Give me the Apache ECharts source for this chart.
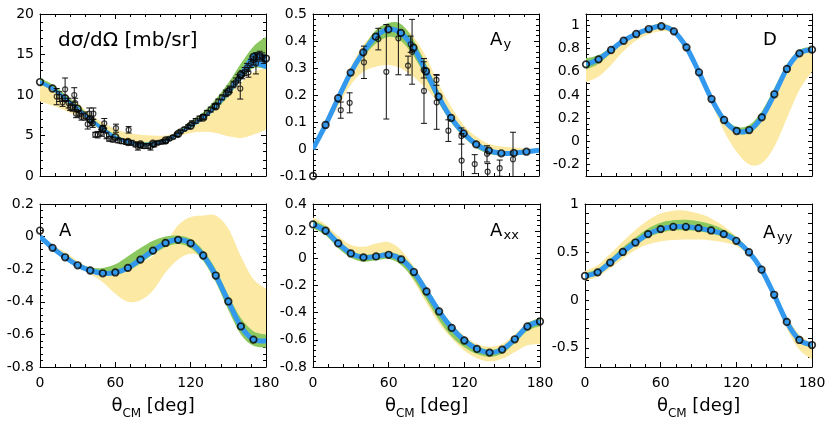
<!DOCTYPE html>
<html><head><meta charset="utf-8">
<script src="https://cdn.jsdelivr.net/npm/echarts@6/dist/echarts.min.js"></script>
<style>html,body{margin:0;padding:0;background:#fff}#c{width:831px;height:424px}</style>
</head><body><div id="c"></div>
<script>
const THETA = [0,10,20,30,40,50,60,70,80,90,100,110,120,130,140,150,160,170,180];
const X_TICKS = [0,60,120,180];

// Panel 1: dσ/dΩ
const p1_line = [11.6,10.8,9.6,8.3,7.0,5.8,4.8,4.2,3.9,4.0,4.4,5.2,6.2,7.2,8.6,10.4,12.5,14.7,14.6];
const p1_circ = [11.6,10.8,9.6,8.3,7.0,5.8,4.8,4.2,3.9,4.0,4.4,5.2,6.2,7.2,8.6,10.4,12.5,14.7,14.5];
const p1_blu_lo = [11.35,10.55,9.35,8.05,6.75,5.55,4.6,4.0,3.7,3.8,4.2,5.0,5.95,6.95,8.3,10.0,11.9,13.5,13.2];
const p1_blu_hi = [11.85,11.05,9.85,8.55,7.25,6.05,5.0,4.4,4.1,4.2,4.6,5.4,6.45,7.45,8.9,10.8,13.0,15.2,15.0];
const p1_grn_lo = [11.3,10.5,9.3,8.0,6.7,5.5,4.55,3.95,3.65,3.75,4.15,4.95,5.9,6.9,8.2,9.8,11.8,13.3,13.2];
const p1_grn_hi = [12.1,11.3,10.1,8.8,7.4,6.1,5.1,4.5,4.2,4.3,4.7,5.6,6.7,7.9,9.5,11.5,13.9,16.0,17.2];
const p1_yel_lo = [9.2,8.7,8.1,7.4,6.5,5.5,4.6,4.1,3.9,3.9,4.3,4.9,5.3,5.45,5.3,4.9,4.7,5.1,5.7];
const p1_yel_hi = [11.2,10.6,10.0,9.0,7.6,6.6,5.8,5.3,5.1,5.0,5.0,5.4,6.3,7.2,8.3,9.8,11.5,12.8,13.3];
const p1_exp_theta = [13.3,15.4,18,20,22.8,24,26,27.3,28,28.7,31.3,33,36,38,39.3,41,42,42.5,44,46,48.6,50,51.2,53,55,58,60.5,62,65,68.6,70.6,73,76,78,80,83,86,88,91,94,97,100,103,106,109,112,115,118,121,124,127,130,133,136,139,142,145,148,151,154,156,158,159.5,161,163,165,166,168,170,172,173,175,177,178.5];
const p1_exp_val = [9.8,9.8,9.1,10.7,9.0,8.5,8.4,10.0,9.0,7.7,7.7,7.3,7.4,6.4,7.7,6.7,6.5,7.7,5.1,5.1,5.3,5.8,6.5,5.0,4.6,4.5,5.9,4.4,4.3,4.2,5.7,4.1,3.9,3.6,3.8,3.7,3.7,3.6,3.9,4.1,4.2,4.3,4.6,4.8,5.1,5.5,5.8,6.1,6.5,6.8,7.1,7.3,7.8,8.2,8.6,9.2,9.7,10.2,10.7,11.3,11.6,12.0,10.8,12.5,12.9,13.4,12.8,13.9,14.3,13.9,14.7,14.9,14.7,14.4];
const p1_exp_err = [1.0,0.6,0.5,1.4,0.6,0.4,0.4,0.9,0.6,0.5,0.4,0.4,0.5,0.6,0.7,0.5,0.5,0.7,0.3,0.4,0.4,0.4,0.6,0.4,0.3,0.3,0.5,0.3,0.3,0.3,0.4,0.3,0.3,0.4,0.3,0.3,0.3,0.4,0.3,0.2,0.2,0.2,0.2,0.2,0.2,0.2,0.2,0.2,0.3,0.3,0.3,0.3,0.3,0.3,0.3,0.3,0.3,0.4,0.4,0.4,0.5,0.5,1.3,0.5,0.5,0.5,0.6,0.5,0.5,1.3,0.5,0.5,0.5,0.5];

// Panel 2: A_y
const p2_line = [0.0,0.089,0.188,0.283,0.358,0.416,0.443,0.43,0.375,0.288,0.194,0.115,0.058,0.017,-0.006,-0.016,-0.015,-0.01,-0.005];
const p2_circ = [-0.1,0.089,0.188,0.283,0.358,0.416,0.443,0.43,0.375,0.288,0.194,0.115,0.058,0.017,-0.006,-0.016,-0.015,-0.01,null];
const p2_grn_lo = [-0.005,0.08,0.175,0.268,0.34,0.39,0.415,0.4,0.345,0.262,0.172,0.098,0.045,0.005,-0.018,-0.025,-0.025,-0.018,-0.008];
const p2_grn_hi = [0.005,0.095,0.2,0.295,0.375,0.44,0.467,0.463,0.405,0.315,0.215,0.13,0.07,0.027,0.0,-0.01,-0.01,-0.005,0.0];
const p2_yel_lo = [0.0,0.077,0.157,0.237,0.286,0.305,0.311,0.299,0.268,0.225,0.169,0.101,0.045,0.003,-0.014,-0.018,-0.02,-0.015,-0.005];
const p2_yel_hi = [0.002,0.107,0.206,0.305,0.385,0.435,0.459,0.459,0.416,0.342,0.243,0.157,0.089,0.046,0.019,0.009,0.006,0.002,0.0];
const p2_exp_theta = [22.1,29.2,40.6,52,58.4,68,75.7,77.8,78.9,88.2,88.4,98.3,98.5,107.8,118.2,118.4,128.8,138.6,139.1,148.7,159.3];
const p2_exp_val = [0.144,0.171,0.321,0.407,0.286,0.41,0.309,0.388,0.36,0.293,0.215,0.256,0.173,0.068,0.048,-0.043,-0.056,-0.018,-0.084,-0.071,-0.038];
const p2_exp_err = [0.03,0.037,0.06,0.04,0.175,0.135,0.035,0.03,0.12,0.03,0.12,0.02,0.1,0.04,0.03,0.1,0.035,0.03,0.03,0.03,0.1];

// Panel 3: D
const p3_line = [0.665,0.708,0.789,0.869,0.927,0.970,0.994,0.950,0.812,0.596,0.365,0.184,0.089,0.097,0.207,0.406,0.625,0.760,0.792];
const p3_circ = [0.665,0.708,0.789,0.869,0.927,0.970,0.994,0.950,0.812,0.596,0.365,0.184,0.089,0.097,0.207,0.406,0.625,0.760,0.792];
const p3_grn_lo = [0.62,0.67,0.76,0.85,0.91,0.955,0.98,0.935,0.80,0.585,0.35,0.165,0.07,0.07,0.17,0.37,0.6,0.745,0.775];
const p3_grn_hi = [0.717,0.745,0.815,0.89,0.945,0.985,1.008,0.965,0.825,0.61,0.385,0.21,0.125,0.14,0.26,0.46,0.665,0.79,0.815];
const p3_yel_lo = [0.51,0.56,0.66,0.78,0.87,0.925,0.95,0.93,0.80,0.58,0.33,0.085,-0.09,-0.2,-0.19,-0.047,0.2,0.443,0.6];
const p3_yel_hi = [0.69,0.73,0.8,0.88,0.94,0.99,1.025,0.975,0.835,0.62,0.39,0.21,0.11,0.11,0.2,0.38,0.58,0.74,0.79];

// Panel 4: A
const p4_line = [0.0,-0.069,-0.127,-0.176,-0.208,-0.225,-0.22,-0.192,-0.141,-0.086,-0.039,-0.02,-0.041,-0.116,-0.239,-0.398,-0.551,-0.632,-0.64];
const p4_circ = [0.037,-0.069,-0.127,-0.176,-0.208,-0.225,-0.22,-0.192,-0.141,-0.086,-0.039,-0.02,-0.041,-0.116,-0.239,-0.398,-0.551,-0.632,null];
const p4_grn_lo = [-0.005,-0.075,-0.135,-0.185,-0.215,-0.235,-0.235,-0.21,-0.165,-0.11,-0.065,-0.045,-0.07,-0.15,-0.28,-0.45,-0.6,-0.67,-0.68];
const p4_grn_hi = [0.0,-0.06,-0.11,-0.16,-0.19,-0.192,-0.17,-0.12,-0.07,-0.025,0.0,0.005,-0.015,-0.085,-0.2,-0.36,-0.5,-0.58,-0.6];
const p4_yel_lo = [-0.005,-0.07,-0.13,-0.185,-0.23,-0.28,-0.35,-0.4,-0.39,-0.33,-0.22,-0.14,-0.105,-0.125,-0.2,-0.37,-0.51,-0.6,-0.62];
const p4_yel_hi = [0.0,-0.055,-0.095,-0.15,-0.19,-0.2,-0.2,-0.19,-0.16,-0.12,-0.04,0.07,0.12,0.13,0.13,0.05,-0.12,-0.26,-0.32];

// Panel 5: A_xx
const p5_line = [0.25,0.203,0.11,0.036,0.007,0.014,0.026,-0.008,-0.101,-0.244,-0.391,-0.512,-0.605,-0.667,-0.694,-0.672,-0.596,-0.502,-0.465];
const p5_circ = [0.25,0.203,0.11,0.036,0.007,0.014,0.026,-0.008,-0.101,-0.244,-0.391,-0.512,-0.605,-0.667,-0.694,-0.672,-0.596,-0.502,-0.465];
const p5_grn_lo = [0.22,0.17,0.075,0.005,-0.025,-0.015,-0.005,-0.05,-0.155,-0.305,-0.455,-0.575,-0.655,-0.705,-0.725,-0.7,-0.625,-0.535,-0.5];
const p5_grn_hi = [0.28,0.232,0.135,0.058,0.028,0.034,0.047,0.018,-0.07,-0.21,-0.36,-0.485,-0.58,-0.645,-0.672,-0.65,-0.572,-0.478,-0.44];
const p5_yel_lo = [0.22,0.18,0.09,0.02,-0.005,0.0,0.01,-0.04,-0.17,-0.33,-0.48,-0.59,-0.68,-0.735,-0.76,-0.74,-0.69,-0.64,-0.63];
const p5_yel_hi = [0.3,0.25,0.165,0.1,0.085,0.11,0.12,0.06,-0.06,-0.21,-0.36,-0.48,-0.57,-0.63,-0.65,-0.63,-0.56,-0.48,-0.445];

// Panel 6: A_yy
const p6_line = [0.249,0.287,0.389,0.5,0.598,0.686,0.738,0.762,0.762,0.748,0.724,0.686,0.616,0.497,0.315,0.053,-0.23,-0.418,-0.471];
const p6_circ = [0.249,0.287,0.389,0.5,0.598,0.686,0.738,0.762,0.762,0.748,0.724,0.686,0.616,0.497,0.315,0.053,-0.23,-0.418,-0.471];
const p6_grn_lo = [0.225,0.26,0.36,0.47,0.565,0.65,0.7,0.725,0.725,0.715,0.69,0.655,0.59,0.475,0.29,0.025,-0.26,-0.445,-0.495];
const p6_grn_hi = [0.28,0.325,0.43,0.55,0.65,0.745,0.805,0.83,0.835,0.82,0.79,0.735,0.655,0.525,0.335,0.07,-0.21,-0.4,-0.45];
const p6_yel_lo = [0.2,0.24,0.33,0.43,0.52,0.58,0.61,0.625,0.63,0.63,0.62,0.6,0.56,0.46,0.27,0.0,-0.3,-0.52,-0.62];
const p6_yel_hi = [0.3,0.36,0.48,0.61,0.73,0.83,0.9,0.93,0.93,0.9,0.85,0.77,0.66,0.52,0.33,0.08,-0.17,-0.36,-0.45];

// Y axis ranges
const Y_MIN = [0,-0.1,-0.3,-0.8,-0.8,-0.7];
const Y_MAX = [20,0.5,1.1,0.2,0.4,1.0];
const Y_STEP = [5,0.1,0.1,0.2,0.2,0.1];
const Y_LABEL_EVERY = [null,null,0.2,null,null,0.5];

const YEL = '#FCE9A4', GRN = '#8BC860', BLU = '#3399EE';
const FONT = 'DejaVu Sans';

const grids = [
  {left:40, top:14, width:226, height:162},
  {left:313, top:14, width:226, height:162},
  {left:586, top:14, width:226, height:162},
  {left:40, top:204, width:226, height:163},
  {left:313, top:204, width:227, height:163},
  {left:585, top:204, width:227, height:163}
];

const panels = [
  {line:p1_line, circ:p1_circ, glo:p1_grn_lo, ghi:p1_grn_hi, ylo:p1_yel_lo, yhi:p1_yel_hi, blo:p1_blu_lo, bhi:p1_blu_hi, ex:[p1_exp_theta,p1_exp_val,p1_exp_err]},
  {line:p2_line, circ:p2_circ, glo:p2_grn_lo, ghi:p2_grn_hi, ylo:p2_yel_lo, yhi:p2_yel_hi, ex:[p2_exp_theta,p2_exp_val,p2_exp_err]},
  {line:p3_line, circ:p3_circ, glo:p3_grn_lo, ghi:p3_grn_hi, ylo:p3_yel_lo, yhi:p3_yel_hi},
  {line:p4_line, circ:p4_circ, glo:p4_grn_lo, ghi:p4_grn_hi, ylo:p4_yel_lo, yhi:p4_yel_hi},
  {line:p5_line, circ:p5_circ, glo:p5_grn_lo, ghi:p5_grn_hi, ylo:p5_yel_lo, yhi:p5_yel_hi},
  {line:p6_line, circ:p6_circ, glo:p6_grn_lo, ghi:p6_grn_hi, ylo:p6_yel_lo, yhi:p6_yel_hi}
];

function pts(arr){ return THETA.map((t,i)=>[t, arr[i]]).filter(p=>p[1]!=null); }
const fmt = v => String(+(+v).toFixed(2));

const xAxis = [], yAxis = [], series = [];
const tickStyle = {color:'#000', width:1};
grids.forEach((g,i)=>{
  ['bottom','top'].forEach(pos=>{
    xAxis.push({gridIndex:i, type:'value', min:0, max:180, interval:60, position:pos,
      axisLine:{show:true, onZero:false, lineStyle:{color:'#000', width:1}},
      axisTick:{show:true, inside:true, length:5, lineStyle:tickStyle},
      minorTick:{show:true, splitNumber:5, length:3, lineStyle:tickStyle},
      splitLine:{show:false}, minorSplitLine:{show:false},
      axisLabel:{show: pos==='bottom' && i>=3, margin:9, fontSize:14, color:'#000', fontFamily:FONT, formatter:fmt}
    });
  });
  const every = Y_LABEL_EVERY[i];
  ['left','right'].forEach(pos=>{
    yAxis.push({gridIndex:i, type:'value', min:Y_MIN[i], max:Y_MAX[i], interval:Y_STEP[i], position:pos,
      axisLine:{show:true, onZero:false, lineStyle:{color:'#000', width:1}},
      axisTick:{show:true, inside:true, length: every? 4 : 5, lineStyle:tickStyle},
      minorTick:{show: every===null || every===0.2, splitNumber: every? 2 : 5, length:3, lineStyle:tickStyle},
      splitLine:{show:false}, minorSplitLine:{show:false},
      axisLabel:{show: pos==='left', margin:6, fontSize:14, color:'#000', fontFamily:FONT,
        formatter: v => { if (every){ const r = Math.round(v*10), e = Math.round(every*10); if (r % e !== 0) return ''; } return fmt(v); }}
    });
  });
});

// Smooth path through pixel points (Catmull-Rom as cubic Bezier)
function curve(P, move){
  let d = (move ? 'M' : 'L') + P[0][0].toFixed(2) + ',' + P[0][1].toFixed(2);
  const n = P.length;
  for (let i = 0; i < n-1; i++){
    const p0 = P[Math.max(i-1,0)], p1 = P[i], p2 = P[i+1], p3 = P[Math.min(i+2,n-1)];
    const c1 = [p1[0] + (p2[0]-p0[0])/6, p1[1] + (p2[1]-p0[1])/6];
    const c2 = [p2[0] - (p3[0]-p1[0])/6, p2[1] - (p3[1]-p1[1])/6];
    d += 'C' + c1.map(v=>v.toFixed(2)).join(',') + ' ' + c2.map(v=>v.toFixed(2)).join(',') + ' ' + p2.map(v=>v.toFixed(2)).join(',');
  }
  return d;
}

function bandRender(color){
  return function(params, api){
    if (params.dataIndexInside !== 0) return null;
    const n = params.dataInsideLength || THETA.length;
    const up = [], lo = [];
    for (let k = 0; k < n; k++){
      const t = api.value(0, k);
      lo.push(api.coord([t, api.value(1, k)]));
      up.push(api.coord([t, api.value(2, k)]));
    }
    const d = curve(up, true) + curve(lo.slice().reverse(), false) + 'Z';
    return {type:'path', shape:{pathData:d}, style:{fill:color, stroke:null}};
  };
}
function lineRender(color, width){
  return function(params, api){
    if (params.dataIndexInside !== 0) return null;
    const n = params.dataInsideLength || THETA.length;
    const P = [];
    for (let k = 0; k < n; k++) P.push(api.coord([api.value(0, k), api.value(1, k)]));
    return {type:'path', shape:{pathData:curve(P, true)}, style:{fill:null, stroke:color, lineWidth:width, lineJoin:'round'}};
  };
}

function band(i, lo, hi, color, z){
  return {type:'custom', xAxisIndex:2*i, yAxisIndex:2*i, clip:true, silent:true, z:z,
    renderItem: bandRender(color), encode:{x:0, y:[1,2]},
    data: THETA.map((t,k)=>[t, lo[k], hi[k]])};
}

function errItem(params, api){
  const x = api.value(0);
  const a = api.coord([x, api.value(1)]), b = api.coord([x, api.value(2)]);
  const c = 3, st = {stroke:'#111', lineWidth:1};
  return {type:'group', children:[
    {type:'line', shape:{x1:a[0],y1:a[1],x2:b[0],y2:b[1]}, style:st},
    {type:'line', shape:{x1:a[0]-c,y1:a[1],x2:a[0]+c,y2:a[1]}, style:st},
    {type:'line', shape:{x1:b[0]-c,y1:b[1],x2:b[0]+c,y2:b[1]}, style:st}
  ]};
}

panels.forEach((p,i)=>{
  series.push(band(i, p.ylo, p.yhi, YEL, 1));
  series.push(band(i, p.glo, p.ghi, GRN, 2));
  if (p.blo) series.push(band(i, p.blo, p.bhi, BLU, 3));
  series.push({type:'custom', xAxisIndex:2*i, yAxisIndex:2*i, clip:true, silent:true, z:3,
    renderItem: lineRender(BLU, p.blo ? 3 : 5), encode:{x:0, y:1}, data: pts(p.line)});
  if (p.ex){
    const [t,v,e] = p.ex;
    series.push({type:'custom', xAxisIndex:2*i, yAxisIndex:2*i, clip:true, silent:true, z:4, renderItem:errItem,
      encode:{x:0, y:[1,2]}, data: t.map((x,k)=>[x, v[k]-e[k], v[k]+e[k]])});
    series.push({type:'scatter', xAxisIndex:2*i, yAxisIndex:2*i, silent:true, z:5, symbol:'circle', symbolSize:5,
      itemStyle:{color:'rgba(0,0,0,0)', borderColor:'#111', borderWidth:1.2}, data: t.map((x,k)=>[x, v[k]])});
  }
  series.push({type:'scatter', xAxisIndex:2*i, yAxisIndex:2*i, silent:true, z:6, symbol:'circle', symbolSize:6.6,
    itemStyle:{color:'rgba(0,0,0,0)', borderColor:'#000', borderWidth:1.7}, data: pts(p.circ)});
});

function txt(x, y, s, size){
  return {type:'text', x:x, y:y, silent:true, z:100,
    style:{text:s, font: size+'px "'+FONT+'"', fill:'#000', verticalAlign:'middle', align:'left'}};
}
const graphic = [
  txt(58, 41, 'dσ/dΩ [mb/sr]', 20),
  txt(490, 40.5, 'A', 18), txt(503.5, 45, 'y', 13),
  txt(763, 40.5, 'D', 18),
  txt(59, 231.5, 'A', 18),
  txt(490, 231.5, 'A', 18), txt(503.5, 236, 'xx', 13),
  txt(763, 233.5, 'A', 18), txt(777, 238, 'yy', 13)
];
[3,4,5].forEach(i=>{
  const g = grids[i];
  const s = g.left + g.width/2 - 41.4;
  graphic.push(txt(s, 406.5, 'θ', 18), txt(s+10.8, 413.5, 'CM', 12), txt(s+29.5, 406.5, ' [deg]', 18));
});

const chart = echarts.init(document.getElementById('c'), null, {renderer:'canvas'});
chart.setOption({animation:false, grid:grids, xAxis:xAxis, yAxis:yAxis, series:series, graphic:graphic});
</script></body></html>
